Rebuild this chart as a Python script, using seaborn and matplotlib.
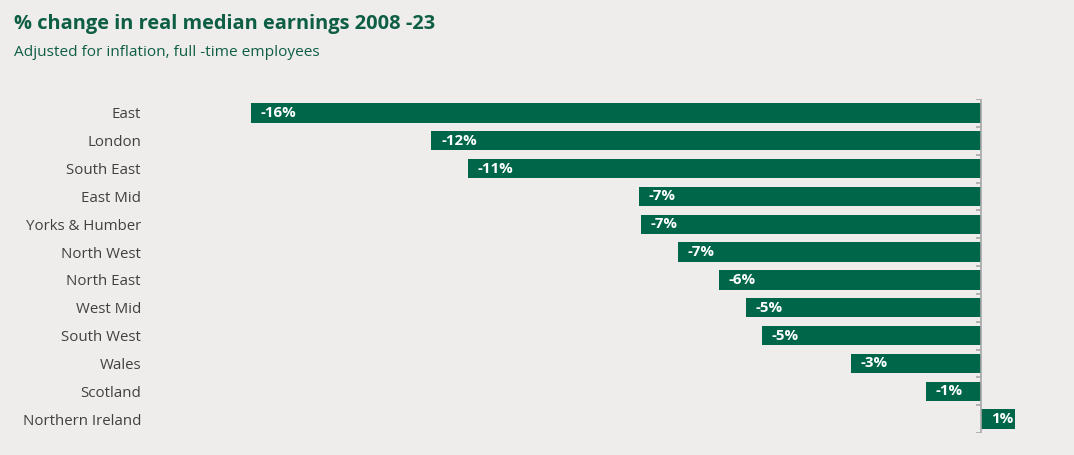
import pandas as pd
import matplotlib.pyplot as plt
import seaborn as sns

# data
regions = ["East", "London", "South East", "East Mid", "Yorks & Humber", "North West",
           "North East", "West Mid", "South West", "Wales", "Scotland", "Northern Ireland"]
change = [-16.0, -12.05, -11.25, -7.5, -7.45, -6.65, -5.75, -5.15, -4.8, -2.85, -1.2, 0.75]
labels = ["-16%", "-12%", "-11%", "-7%", "-7%", "-7%", "-6%", "-5%", "-5%", "-3%", "-1%", "1%"]

df = pd.DataFrame({"Region": regions, "Change": change})

bg = "#efedeb"
green = "#00664a"
title_green = "#0e5e45"

sns.set_style("white")
plt.rcParams["font.family"] = ["Open Sans", "DejaVu Sans"]

fig = plt.figure(figsize=(10.74, 4.55), dpi=100)
fig.patch.set_facecolor(bg)
ax = fig.add_axes([150 / 1074, 22 / 455, 914 / 1074, 334 / 455])
ax.set_facecolor(bg)

sns.barplot(data=df, y="Region", x="Change", color=green, orient="h",
            width=0.7, saturation=1, linewidth=0, edgecolor=green, ax=ax)

ax.set_xlim(-18.22, 1.82)
ax.set_ylim(11.5, -0.5)
ax.set_xlabel("")
ax.set_ylabel("")
ax.set_xticks([])
for s in ax.spines.values():
    s.set_visible(False)
ax.tick_params(axis="y", length=0, pad=6.5, labelsize=10.8, labelcolor="#404040")

# zero line with small ticks at category boundaries
ax.axvline(0, color="#a8a8a8", lw=1.2, zorder=3)
for b in range(len(regions) + 1):
    ax.plot([-0.1, 0], [b - 0.5, b - 0.5], color="#a8a8a8", lw=1.2, zorder=3,
            solid_capstyle="butt")

# value labels inside bars, at the left end
for i, (v, lab) in enumerate(zip(change, labels)):
    ax.annotate(lab, (min(v, 0), i), xytext=(7, 0), textcoords="offset points",
                ha="left", va="center", color="white", fontsize=10.8, fontweight="bold")

fig.text(14 / 1074, 1 - 24 / 455, "% change in real median earnings 2008 -23",
         fontsize=14.4, fontweight="bold", color=title_green, va="center", ha="left")
fig.text(14 / 1074, 1 - 53 / 455, "Adjusted for inflation, full -time employees",
         fontsize=11.1, color=title_green, va="center", ha="left")

fig.savefig("out.png", dpi=100, facecolor=bg)
